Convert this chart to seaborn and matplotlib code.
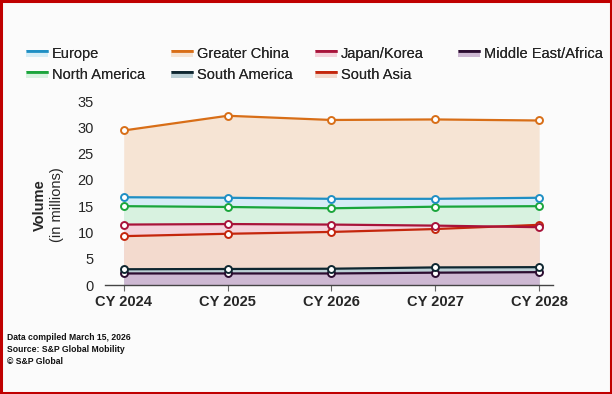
import matplotlib
matplotlib.use("Agg")
import matplotlib.pyplot as plt
import seaborn as sns
import pandas as pd
from matplotlib.patches import Rectangle
from matplotlib.lines import Line2D
from matplotlib.legend_handler import HandlerBase

years = ["CY 2024", "CY 2025", "CY 2026", "CY 2027", "CY 2028"]
europe = [16.7, 16.6, 16.4, 16.4, 16.6]
greater_china = [29.4, 32.2, 31.4, 31.5, 31.3]
japan_korea = [11.5, 11.6, 11.5, 11.3, 11.0]
middle_east_africa = [2.2, 2.2, 2.2, 2.35, 2.45]
north_america = [15.0, 14.85, 14.6, 14.9, 15.0]
south_america = [3.0, 3.05, 3.1, 3.35, 3.4]
south_asia = [9.3, 9.75, 10.1, 10.65, 11.45]
y_ticks = [0, 5, 10, 15, 20, 25, 30, 35]

series = {
    "Europe": europe,
    "Greater China": greater_china,
    "Japan/Korea": japan_korea,
    "Middle East/Africa": middle_east_africa,
    "North America": north_america,
    "South America": south_america,
    "South Asia": south_asia,
}
line_colors = {
    "Europe": "#1f8fc4",
    "Greater China": "#d86e17",
    "Japan/Korea": "#a8133a",
    "Middle East/Africa": "#2b0c30",
    "North America": "#1aa53b",
    "South America": "#0e2630",
    "South Asia": "#c4260c",
}
fill_colors = {
    "Europe": "#d6edf6",
    "Greater China": "#f6e4d4",
    "Japan/Korea": "#f5d3dc",
    "Middle East/Africa": "#cdb8d2",
    "North America": "#d8f2e0",
    "South America": "#bcd0d6",
    "South Asia": "#f3dace",
}

sns.set_theme(style="white")
plt.rcParams["font.family"] = ["Liberation Sans", "DejaVu Sans"]

bg = "#fbfbfb"
fig = plt.figure(figsize=(6.12, 3.94), dpi=100, facecolor=bg)
ax = fig.add_axes([0.1716, 0.2766, 0.7314, 0.4736])
ax.set_facecolor(bg)

xpos = list(range(len(years)))
rows = []
for name, vals in series.items():
    for x, v in zip(xpos, vals):
        rows.append({"x": x, "value": v, "region": name})
df = pd.DataFrame(rows)

# fills: draw from highest to lowest so lower fills sit on top
order = sorted(series.keys(), key=lambda k: -sum(series[k]))
for i, name in enumerate(order):
    ax.fill_between(xpos, series[name], 0, color=fill_colors[name], lw=0, zorder=1 + i * 0.01)

for name in order[::-1]:
    sub = df[df.region == name]
    sns.lineplot(data=sub, x="x", y="value", ax=ax, color=line_colors[name], lw=1.6,
                 marker="o", markersize=5, markerfacecolor="white",
                 markeredgecolor=line_colors[name], markeredgewidth=1.4, zorder=3, legend=False)

ax.set_xlim(-0.18, 4.13)
ax.set_ylim(0, 35.5)
ax.set_yticks(y_ticks)
ax.set_yticklabels([str(t) for t in y_ticks], fontsize=10.5)
ax.set_xticks(xpos)
ax.set_xticklabels(years, fontsize=10.5, fontweight="bold")
ax.set_xlabel("")
ax.set_ylabel("")
for s in ["top", "right", "left"]:
    ax.spines[s].set_visible(False)
ax.spines["bottom"].set_color("#444444")
ax.spines["bottom"].set_linewidth(1.0)
ax.tick_params(axis="x", direction="out", length=4, width=0.8, color="#666666", pad=3, bottom=True)
ax.tick_params(axis="y", length=0, pad=8)

# y label
fig.text(0.066, 0.48, "Volume", rotation=90, ha="center", va="center",
         fontsize=10.5, fontweight="bold")
fig.text(0.093, 0.48, "(in millions)", rotation=90, ha="center", va="center", fontsize=10.5)


class BandHandler(HandlerBase):
    def create_artists(self, legend, orig_handle, xdescent, ydescent, width, height, fontsize, trans):
        lc, fc = orig_handle
        r = Rectangle((-xdescent, -ydescent + height * 0.05), width, height * 0.6,
                      facecolor=fc, edgecolor="none", transform=trans)
        l = Line2D([-xdescent, -xdescent + width], [-ydescent + height * 0.65] * 2,
                   color=lc, lw=2.0, transform=trans, solid_capstyle="butt")
        return [r, l]


columns = [["Europe", "North America"], ["Greater China", "South America"],
           ["Japan/Korea", "South Asia"], ["Middle East/Africa"]]
col_x = [26, 171, 315, 458]
for cx, names in zip(col_x, columns):
    handles = [(line_colors[n], fill_colors[n]) for n in names]
    leg = fig.legend(handles, names, handler_map={tuple: BandHandler()},
                     loc="upper left", bbox_to_anchor=(cx / 612, 1 - 47 / 394),
                     frameon=False, fontsize=10.5, handlelength=1.5, handleheight=0.7,
                     handletextpad=0.25, labelspacing=0.45, borderpad=0, borderaxespad=0)
    fig.add_artist(leg)

# footer
foot = ["Data compiled March 15, 2026", "Source: S&P Global Mobility", "\u00a9 S&P Global"]
for i, t in enumerate(foot):
    fig.text(7 / 612, 1 - (338 + i * 11.5) / 394, t, fontsize=6.2, fontweight="bold",
             ha="left", va="center", color="#111111")

# red border
fig.add_artist(Rectangle((0.002, 0.003), 0.996, 0.994, transform=fig.transFigure,
                         fill=False, edgecolor="#c00000", lw=2.2))

fig.savefig("out.png", dpi=100, facecolor=bg)
